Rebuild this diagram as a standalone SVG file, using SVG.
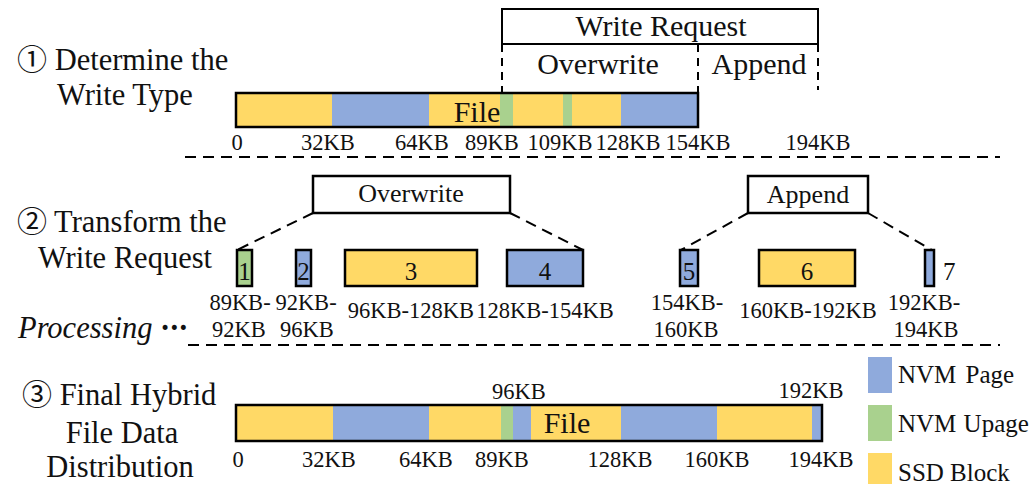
<svg xmlns="http://www.w3.org/2000/svg" width="1030" height="484" viewBox="0 0 1030 484">
  <style>
    text { font-family: "Liberation Serif", "Noto Sans CJK SC", serif; fill: #111; }
    .title { font-size: 30.5px; }
    .circ { font-family: "Noto Sans CJK SC", "DejaVu Sans", sans-serif; font-size: 30px; }
    .lbl { font-size: 22.5px; }
    .num { font-size: 25px; }
    .box { font-size: 26px; }
    .big { font-size: 30px; }
    .leg { font-size: 25px; }
    .ssd { fill: #FFD966; }
    .nvm { fill: #8FAADC; }
    .upg { fill: #A9D18E; }
    .frame { fill: none; stroke: #000; stroke-width: 2.5; }
    .blk { stroke: #000; stroke-width: 2.5; }
    .dash { fill: none; stroke: #000; stroke-width: 2; stroke-dasharray: 11 7; }
    .vdash { fill: none; stroke: #000; stroke-width: 2; stroke-dasharray: 8 6; }
    .solid { fill: none; stroke: #000; stroke-width: 2; }
  </style>

  <!-- step titles -->
  <g id="step1-title" class="title">
    <text x="17" y="70"><tspan class="circ">①</tspan> Determine the</text>
    <text x="125" y="105" text-anchor="middle">Write Type</text>
  </g>
  <g id="step2-title" class="title">
    <text x="17" y="232"><tspan class="circ">②</tspan> Transform the</text>
    <text x="125" y="268" text-anchor="middle">Write Request</text>
  </g>
  <g id="processing">
    <text x="18" y="338" class="title" font-family="Liberation Serif, serif" font-style="italic">Processing <tspan font-style="normal" font-weight="bold" letter-spacing="-1">···</tspan></text>
  </g>
  <g id="step3-title" class="title">
    <text x="22" y="405"><tspan class="circ">③</tspan> Final Hybrid</text>
    <text x="122" y="443" text-anchor="middle">File Data</text>
    <text x="120" y="477" text-anchor="middle">Distribution</text>
  </g>

  <!-- separators -->
  <g id="separators">
    <line x1="185" y1="157" x2="1000" y2="157" class="dash"/>
    <line x1="188" y1="345" x2="1000" y2="345" class="dash"/>
  </g>

  <!-- step 1: write request spanning the file -->
  <g id="write-request">
    <polyline points="502,44 502,9 818,9 818,44 502,44" class="solid"/>
    <text x="661" y="36" class="big" text-anchor="middle">Write Request</text>
    <line x1="502" y1="44" x2="502" y2="93" class="vdash"/>
    <line x1="698" y1="44" x2="698" y2="93" class="vdash"/>
    <line x1="818" y1="44" x2="818" y2="90" class="vdash"/>
    <text x="598" y="74" class="big" text-anchor="middle">Overwrite</text>
    <text x="759" y="74" class="big" text-anchor="middle">Append</text>
  </g>

  <g id="file-before">
    <rect x="236" y="93" width="96" height="34" class="ssd"/>
    <rect x="332" y="93" width="97" height="34" class="nvm"/>
    <rect x="429" y="93" width="71" height="34" class="ssd"/>
    <rect x="500" y="93" width="13" height="34" class="upg"/>
    <rect x="513" y="93" width="50" height="34" class="ssd"/>
    <rect x="563" y="93" width="9" height="34" class="upg"/>
    <rect x="572" y="93" width="49" height="34" class="ssd"/>
    <rect x="621" y="93" width="77" height="34" class="nvm"/>
    <rect x="236" y="93" width="462" height="34" class="frame"/>
    <text x="477" y="122" class="big" text-anchor="middle">File</text>
    <g class="lbl" text-anchor="middle">
      <text x="237" y="150">0</text>
      <text x="328" y="150">32KB</text>
      <text x="422" y="150">64KB</text>
      <text x="492" y="150">89KB</text>
      <text x="560" y="150">109KB</text>
      <text x="628" y="150">128KB</text>
      <text x="698" y="150">154KB</text>
      <text x="818" y="150">194KB</text>
    </g>
  </g>

  <!-- step 2: split requests -->
  <g id="overwrite-req">
    <rect x="313" y="176" width="197" height="37" fill="#fff" class="blk"/>
    <text x="411" y="202" class="box" text-anchor="middle">Overwrite</text>
  </g>
  <g id="append-req">
    <rect x="748" y="176" width="120" height="37" fill="#fff" class="blk"/>
    <text x="808" y="203" class="box" text-anchor="middle">Append</text>
  </g>

  <g id="connectors">
    <line x1="313" y1="213" x2="237" y2="250" class="dash" stroke-dasharray="9 6"/>
    <line x1="510" y1="213" x2="583" y2="250" class="dash" stroke-dasharray="9 6"/>
    <line x1="748" y1="213" x2="681" y2="250" class="dash" stroke-dasharray="9 6"/>
    <line x1="868" y1="213" x2="932" y2="250" class="dash" stroke-dasharray="9 6"/>
  </g>

  <g id="piece1">
    <rect x="237" y="250" width="15" height="36" class="upg blk"/>
    <text x="244.5" y="280" class="num" text-anchor="middle">1</text>
    <text x="240" y="310" class="lbl" text-anchor="middle">89KB-</text>
    <text x="239" y="337" class="lbl" text-anchor="middle">92KB</text>
  </g>
  <g id="piece2">
    <rect x="296" y="250" width="15" height="36" class="nvm blk"/>
    <text x="303.5" y="280" class="num" text-anchor="middle">2</text>
    <text x="306" y="310" class="lbl" text-anchor="middle">92KB-</text>
    <text x="307" y="337" class="lbl" text-anchor="middle">96KB</text>
  </g>
  <g id="piece3">
    <rect x="345" y="250" width="132" height="36" class="ssd blk"/>
    <text x="411" y="280" class="num" text-anchor="middle">3</text>
    <text x="411" y="318" class="lbl" text-anchor="middle">96KB-128KB</text>
  </g>
  <g id="piece4">
    <rect x="507" y="250" width="76" height="36" class="nvm blk"/>
    <text x="545" y="280" class="num" text-anchor="middle">4</text>
    <text x="545" y="318" class="lbl" text-anchor="middle">128KB-154KB</text>
  </g>
  <g id="piece5">
    <rect x="680" y="250" width="18" height="36" class="nvm blk"/>
    <text x="689" y="280" class="num" text-anchor="middle">5</text>
    <text x="687" y="310" class="lbl" text-anchor="middle">154KB-</text>
    <text x="686" y="337" class="lbl" text-anchor="middle">160KB</text>
  </g>
  <g id="piece6">
    <rect x="759" y="250" width="96" height="36" class="ssd blk"/>
    <text x="807" y="280" class="num" text-anchor="middle">6</text>
    <text x="808" y="318" class="lbl" text-anchor="middle">160KB-192KB</text>
  </g>
  <g id="piece7">
    <rect x="925" y="250" width="9" height="36" class="nvm blk"/>
    <text x="943" y="280" class="num">7</text>
    <text x="924" y="310" class="lbl" text-anchor="middle">192KB-</text>
    <text x="926" y="337" class="lbl" text-anchor="middle">194KB</text>
  </g>

  <!-- step 3: resulting layout -->
  <g id="file-after">
    <rect x="236" y="405" width="97" height="36" class="ssd"/>
    <rect x="333" y="405" width="96" height="36" class="nvm"/>
    <rect x="429" y="405" width="72" height="36" class="ssd"/>
    <rect x="501" y="405" width="12" height="36" class="upg"/>
    <rect x="513" y="405" width="18" height="36" class="nvm"/>
    <rect x="531" y="405" width="90" height="36" class="ssd"/>
    <rect x="621" y="405" width="96" height="36" class="nvm"/>
    <rect x="717" y="405" width="95" height="36" class="ssd"/>
    <rect x="812" y="405" width="10" height="36" class="nvm"/>
    <rect x="236" y="405" width="586" height="36" class="frame"/>
    <text x="567" y="433" class="big" text-anchor="middle">File</text>
    <g class="lbl" text-anchor="middle">
      <text x="519" y="399">96KB</text>
      <text x="811" y="398">192KB</text>
      <text x="238" y="467">0</text>
      <text x="329" y="467">32KB</text>
      <text x="426" y="467">64KB</text>
      <text x="502" y="467">89KB</text>
      <text x="620" y="467">128KB</text>
      <text x="717" y="467">160KB</text>
      <text x="821" y="467">194KB</text>
    </g>
  </g>

  <!-- legend -->
  <g id="legend" class="leg">
    <rect x="868" y="357" width="24" height="36" class="nvm"/>
    <text x="898" y="383" word-spacing="3">NVM Page</text>
    <rect x="868" y="405" width="24" height="36" class="upg"/>
    <text x="898" y="432" word-spacing="1">NVM Upage</text>
    <rect x="868" y="453" width="24" height="36" class="ssd"/>
    <text x="898" y="481">SSD Block</text>
  </g>
</svg>
